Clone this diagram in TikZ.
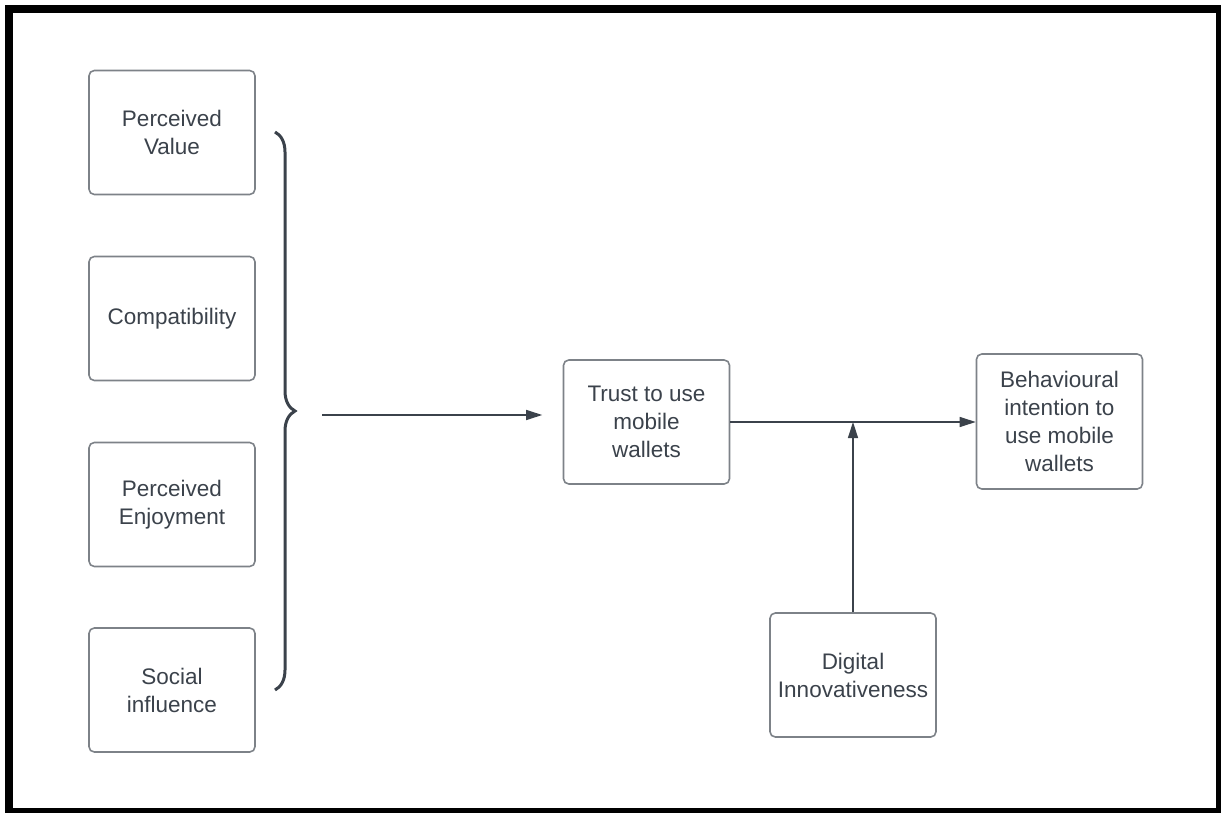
\documentclass[tikz,border=0pt]{standalone}
\usepackage{fontspec}
\setmainfont{Liberation Sans}
\usepackage{xcolor}
\definecolor{walletink}{HTML}{3b424b}
\definecolor{walletedge}{HTML}{7d8288}
\usepackage{tikz}
\usetikzlibrary{arrows.meta, positioning, calc, decorations.pathreplacing}

\begin{document}
\begin{tikzpicture}[
  construct/.style={rectangle, rounded corners=3pt, draw=walletedge,
    line width=0.9pt, fill=white, minimum width=3.32cm, minimum height=2.48cm,
    align=center, text=walletink, inner sep=0pt,
    font=\fontsize{12.8pt}{15.9pt}\selectfont},
  link/.style={draw=walletink, line width=0.8pt,
    -{Triangle[length=0.32cm, width=0.2cm]}}
]
\useasboundingbox (0,0) rectangle (24.42,16.24);
% Frame
\draw[line width=0.16cm] (0.18,0) rectangle (24.40,16.06);

% Factors
\node[construct] (pv)   at (3.44, 13.59) {Perceived\\Value};
\node[construct] (comp) at (3.44, 9.87)  {Compatibility};
\node[construct] (pe)   at (3.44, 6.15)  {Perceived\\Enjoyment};
\node[construct] (si)   at (3.44, 2.44)  {Social\\influence};

% Brace grouping the factors
\coordinate (bracetop) at (5.50, 13.60);
\coordinate (bracebot) at (5.50, 2.44);
\draw[walletink, line width=0.06cm, decorate,
  decoration={brace, amplitude=0.4cm}] (bracetop) -- (bracebot);

% Trust, intention, moderator
\node[construct] (trust)   at (12.93, 7.80) {Trust to use\\mobile\\wallets};
\node[construct, minimum height=2.7cm] (intent) at (21.19, 7.81)
  {Behavioural\\intention to\\use mobile\\wallets};
\node[construct] (digital) at (17.06, 2.74) {Digital\\Innovativeness};

% Connectors
\coordinate (fromfactors) at (6.44, 7.94);
\draw[link, shorten >=0.41cm] (fromfactors) -- (fromfactors -| trust.west);
\draw[link] (trust.east) -- (trust.east -| intent.west);
\coordinate (moderation) at (digital.north |- trust.east);
\draw[link] (digital.north) -- (moderation);
\end{tikzpicture}
\end{document}
